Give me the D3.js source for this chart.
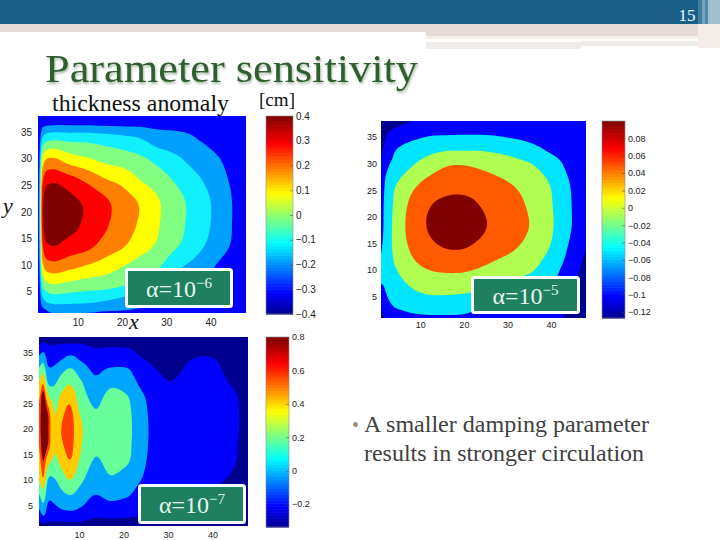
<!DOCTYPE html>
<html><head><meta charset="utf-8">
<script src="https://cdn.jsdelivr.net/npm/d3@7"></script>
<style>html,body{margin:0;padding:0;background:#fff}svg{display:block}</style>
</head><body><svg id="c" width="720" height="540"></svg>
<script>
// ---------- data ----------
const titleText = "Parameter sensitivity";
const subtitleText = "thickness anomaly";
const unitText = "[cm]";
const pageNumber = "15";
const bulletLines = ["A smaller damping parameter", "results in stronger circulation"];
const bulletWidths = [285, 280];
const xTicks = [10, 20, 30, 40];
const yTicks = [5, 10, 15, 20, 25, 30, 35];
const plotXDomain = [1, 48];
const plotYDomain = [1, 38];

// field grids for the panels with alpha 1e-6 and 1e-5
const gridXs = [1, 2, 4, 8, 12, 16, 20, 24, 28, 32, 36, 40, 44, 48];
const gridYs = [1, 3, 6, 10, 14, 18, 22, 26, 30, 33, 35.5, 38];
// alpha = 1e-6: one array per x column
const fieldA = [
 [-.45,-.42,-.42,-.42,-.42,-.42,-.42,-.42,-.42,-.42,-.42,-.45],
 [-.35,-.24,-.10,.08,.20,.27,.27,.18,.03,-.14,-.28,-.42],
 [-.30,-.18,-.02,.17,.31,.39,.38,.28,.11,-.07,-.24,-.42],
 [-.30,-.18,-.04,.14,.27,.34,.33,.24,.05,-.09,-.24,-.42],
 [-.30,-.19,-.06,.10,.24,.28,.28,.18,.01,-.10,-.24,-.43],
 [-.31,-.21,-.07,.06,.17,.22,.22,.11,-.03,-.12,-.25,-.44],
 [-.31,-.24,-.10,.01,.12,.15,.15,.07,-.05,-.14,-.26,-.44],
 [-.32,-.26,-.14,-.04,.05,.09,.09,.00,-.08,-.17,-.27,-.44],
 [-.35,-.30,-.21,-.08,-.01,.01,.01,-.05,-.13,-.23,-.30,-.45],
 [-.38,-.33,-.25,-.17,-.08,-.06,-.06,-.11,-.18,-.25,-.31,-.46],
 [-.42,-.36,-.29,-.22,-.15,-.13,-.13,-.17,-.23,-.28,-.33,-.47],
 [-.46,-.41,-.34,-.28,-.22,-.20,-.20,-.23,-.27,-.32,-.37,-.48],
 [-.50,-.47,-.42,-.35,-.29,-.28,-.28,-.30,-.33,-.38,-.42,-.50],
 [-.55,-.52,-.48,-.43,-.38,-.37,-.37,-.38,-.41,-.45,-.48,-.55]
];
const thresholdsA = [-.3, -.2, -.1, 0, .1, .2, .3];
const bandsA = ["#0000ff", "#00a0ff", "#10f0ff", "#80ff80", "#ffff00", "#ff8000", "#ff0000", "#800000"];

// alpha = 1e-5: one array per y row
const fieldB = [
 [-.100,-.080,-.055,-.046,-.044,-.044,-.044,-.052,-.058,-.064,-.070,-.075,-.085,-.120],
 [-.065,-.050,-.040,-.030,-.024,-.024,-.028,-.035,-.044,-.052,-.060,-.068,-.080,-.115],
 [-.045,-.040,-.025,-.005,.007,.008,.005,-.002,-.010,-.020,-.030,-.042,-.065,-.100],
 [-.035,-.030,-.005,.025,.040,.045,.044,.035,.022,.012,.001,-.026,-.055,-.090],
 [-.042,-.025,.008,.045,.068,.080,.080,.068,.054,.040,.022,-.004,-.043,-.080],
 [-.050,-.028,.010,.055,.083,.097,.098,.085,.068,.053,.034,.005,-.033,-.070],
 [-.050,-.030,.006,.050,.078,.090,.090,.079,.063,.050,.030,.003,-.033,-.070],
 [-.055,-.036,-.004,.030,.054,.066,.068,.062,.050,.037,.020,-.002,-.037,-.070],
 [-.068,-.050,-.030,-.005,.018,.035,.037,.030,.020,.010,-.002,-.022,-.050,-.075],
 [-.090,-.072,-.045,-.028,-.016,-.009,-.008,-.008,-.012,-.019,-.033,-.050,-.063,-.078],
 [-.100,-.085,-.065,-.053,-.044,-.042,-.041,-.041,-.044,-.050,-.056,-.062,-.068,-.076],
 [-.120,-.110,-.095,-.080,-.072,-.070,-.068,-.066,-.066,-.066,-.066,-.068,-.072,-.079]
];
const thresholdsB = [-.08, -.04, 0, .04, .08];
const bandsB = ["#00008f", "#0000ff", "#00e5ff", "#b0ff50", "#ff5a00", "#800000"];

// alpha = 1e-7: finer grid, one array per x column
const gridXsC = [1, 2, 3, 4.5, 6, 8, 10, 13.5, 17, 21, 23.5, 26, 30, 35, 40, 45, 48];
const gridYsC = [1, 3, 5, 8, 10.5, 14, 17, 20, 23, 26, 29, 31.5, 33.5, 35.5, 38];
const fieldC = [
 [-.30,-.10,.05,.25,.42,.55,.60,.62,.61,.58,.42,.25,.08,-.10,-.32],
 [-.25,.00,.17,.37,.60,.71,.80,.85,.83,.78,.58,.32,.15,-.05,-.30],
 [-.26,-.10,-.02,.10,.22,.50,.70,.72,.70,.48,.19,.05,-.05,-.13,-.30],
 [-.27,-.10,-.01,.10,.21,.37,.42,.43,.40,.32,.18,.05,-.05,-.14,-.30],
 [-.27,-.08,.04,.19,.32,.47,.57,.60,.55,.45,.30,.15,.00,-.11,-.30],
 [-.27,-.07,.07,.26,.43,.60,.66,.68,.65,.55,.38,.23,.07,-.09,-.30],
 [-.27,-.09,.03,.17,.28,.40,.44,.45,.41,.33,.25,.13,.00,-.10,-.30],
 [-.27,-.18,-.08,.03,.10,.19,.24,.27,.22,.15,.05,-.03,-.10,-.18,-.32],
 [-.27,-.17,-.04,.09,.19,.26,.29,.30,.29,.26,.16,.03,-.08,-.17,-.32],
 [-.28,-.18,-.07,.05,.13,.22,.235,.24,.235,.21,.12,.02,-.08,-.18,-.33],
 [-.29,-.20,-.12,-.04,.03,.09,.11,.12,.105,.07,-.02,-.10,-.17,-.24,-.36],
 [-.30,-.22,-.16,-.10,-.07,-.04,-.025,-.02,-.03,-.05,-.11,-.17,-.22,-.28,-.38],
 [-.32,-.26,-.22,-.19,-.17,-.16,-.15,-.15,-.16,-.17,-.195,-.23,-.27,-.32,-.40],
 [-.33,-.27,-.23,-.19,-.17,-.15,-.14,-.14,-.145,-.15,-.16,-.18,-.20,-.26,-.40],
 [-.33,-.28,-.24,-.20,-.17,-.15,-.145,-.14,-.14,-.14,-.15,-.17,-.19,-.25,-.40],
 [-.36,-.32,-.29,-.26,-.22,-.19,-.18,-.17,-.17,-.18,-.22,-.25,-.28,-.32,-.42],
 [-.40,-.37,-.35,-.32,-.30,-.28,-.275,-.27,-.27,-.27,-.29,-.31,-.33,-.36,-.44]
];
const thresholdsC = [-.2, 0, .2, .4, .6, .7];
const bandsC = ["#00008f", "#0000ff", "#00a6ff", "#66ff99", "#ffcc00", "#ff4000", "#800000"];

// colour bars
const jetStops = [0, .11, .36, .61, .86, 1];
const jetColors = ["#00008f", "#0000ff", "#00ffff", "#ffff00", "#ff0000", "#800000"];
const barTicksA = [-.4, -.3, -.2, -.1, 0, .1, .2, .3, .4];
const barTicksB = [-.12, -.1, -.08, -.06, -.04, -.02, 0, .02, .04, .06, .08];
const barTicksC = [-.2, 0, .2, .4, .6, .8];

const panels = [
 {xs: gridXs, ys: gridYs, field: fieldA, th: thresholdsA, bands: bandsA,
  box: [38, 116, 246, 313], bar: [266, 116, 293, 314], barDom: [-.4, .4], barTicks: barTicksA,
  label: [125, 268, 108, 40], exp: "\u22126", fs: 10, padX: 6, padY: 6},
 {xs: gridXs, ys: gridYs, field: d3.transpose(fieldB), th: thresholdsB, bands: bandsB,
  box: [381, 121, 586, 318], bar: [602, 121, 625, 318], barDom: [-.127, .1], barTicks: barTicksB,
  label: [471, 276, 109, 38], exp: "\u22125", fs: 9, padX: 4, padY: 4},
 {xs: gridXsC, ys: gridYsC, field: fieldC, th: thresholdsC, bands: bandsC,
  box: [39, 337, 248, 526], bar: [266, 337, 289, 527], barDom: [-.337, .8], barTicks: barTicksC,
  label: [138, 484, 108, 40], exp: "\u22127", fs: 9, padX: 6, padY: 6}
];

// ---------- helpers ----------
const svg = d3.select("#c");
const SERIF = "'Liberation Serif','Times New Roman',serif";
const SANS = "'Liberation Sans',Arial,sans-serif";

function catmull(arr, k) {
  const n = arr.length, out = [];
  for (let i = 0; i < n - 1; i++) {
    const p0 = arr[Math.max(i - 1, 0)], p1 = arr[i], p2 = arr[i + 1], p3 = arr[Math.min(i + 2, n - 1)];
    for (let s = 0; s < k; s++) {
      const t = s / k;
      out.push(.5 * (2 * p1 + (p2 - p0) * t + (2 * p0 - 5 * p1 + 4 * p2 - p3) * t * t + (3 * p1 - p0 - 3 * p2 + p3) * t * t * t));
    }
  }
  out.push(arr[n - 1]);
  return out;
}

// ---------- slide furniture ----------
const deco = [
 [0, 24, 720, 8, "#e6dad6"], [426, 32, 294, 4, "#e6dad6"], [426, 36, 294, 3, "#f6eeeb"],
 [426, 42, 155, 7, "#f0ecea"], [581, 41, 139, 5, "#f0ecea"], [698, 24, 22, 24, "#f3ece9"],
 [0, 0, 720, 24, "#1a5f87"], [698, 0, 4, 24, "#3f7ea0"], [702, 0, 3, 24, "#7aa5be"],
 [705, 0, 3, 24, "#4f88a8"], [708, 0, 12, 24, "#a0c0d0"]
];
svg.selectAll("rect.deco").data(deco).join("rect").attr("class", "deco")
  .attr("x", d => d[0]).attr("y", d => d[1]).attr("width", d => d[2]).attr("height", d => d[3]).attr("fill", d => d[4]);

svg.append("text").text(pageNumber).attr("x", 687).attr("y", 21).attr("text-anchor", "middle")
  .attr("font-family", SERIF).attr("font-size", 17).attr("fill", "#f2fbff");
svg.append("text").text(titleText).attr("x", 45).attr("y", 82)
  .attr("textLength", 373).attr("lengthAdjust", "spacingAndGlyphs")
  .attr("font-family", SERIF).attr("font-size", 39).attr("fill", "#2f5f2e")
  .style("filter", "drop-shadow(1.5px 2px 1px #a9b9a9)");
svg.append("text").text(subtitleText).attr("x", 52).attr("y", 111)
  .attr("textLength", 177).attr("lengthAdjust", "spacingAndGlyphs")
  .attr("font-family", SERIF).attr("font-size", 22.5).attr("fill", "#111");
svg.append("text").text(unitText).attr("x", 259).attr("y", 106)
  .attr("textLength", 36).attr("lengthAdjust", "spacingAndGlyphs")
  .attr("font-family", SERIF).attr("font-size", 18).attr("fill", "#111");
svg.append("text").text("y").attr("x", 3).attr("y", 213).attr("font-style", "italic")
  .attr("font-family", SERIF).attr("font-size", 22).attr("fill", "#111");
svg.append("text").text("x").attr("x", 129).attr("y", 329).attr("font-style", "italic")
  .attr("font-family", SERIF).attr("font-size", 22).attr("fill", "#111");

// ---------- panels ----------
panels.forEach((p, idx) => {
  const [x0, y0, x1, y1] = p.box;
  const x = d3.scaleLinear().domain(plotXDomain).range([x0, x1]);
  const y = d3.scaleLinear().domain(plotYDomain).range([y1, y0]);
  const g = svg.append("g");
  g.append("clipPath").attr("id", "clip" + idx).append("rect")
    .attr("x", x0).attr("y", y0).attr("width", x1 - x0).attr("height", y1 - y0);

  const k = 6;
  const cols = p.field.map(c => catmull(c, k));
  const rowsUp = d3.transpose(cols).map(r => catmull(r, k));
  const nx = rowsUp[0].length, ny = rowsUp.length;
  const values = rowsUp.flat();
  const ixToX = d3.scaleLinear().domain(p.xs.map((_, i) => i * k)).range(p.xs);
  const iyToY = d3.scaleLinear().domain(p.ys.map((_, i) => i * k)).range(p.ys);
  const path = d3.geoPath(d3.geoTransform({
    point(a, b) { this.stream.point(x(ixToX(a - .5)), y(iyToY(b - .5))); }
  }));
  const contours = d3.contours().size([nx, ny]).smooth(true).thresholds(p.th)(values);

  const plot = g.append("g").attr("clip-path", `url(#clip${idx})`);
  plot.append("rect").attr("x", x0).attr("y", y0).attr("width", x1 - x0).attr("height", y1 - y0).attr("fill", p.bands[0]);
  plot.selectAll("path").data(contours).join("path")
    .attr("d", path).attr("fill", (d, i) => p.bands[i + 1]);

  const styleAxis = a => {
    a.select(".domain").remove();
    a.selectAll(".tick line").remove();
    a.selectAll("text").attr("font-family", SANS).attr("font-size", p.fs).attr("fill", "#222");
  };
  g.append("g").attr("transform", `translate(0,${y1})`)
    .call(d3.axisBottom(x).tickValues(xTicks).tickSize(0).tickPadding(p.padX)).call(styleAxis);
  g.append("g").attr("transform", `translate(${x0},0)`)
    .call(d3.axisLeft(y).tickValues(yTicks).tickSize(0).tickPadding(p.padY)).call(styleAxis);

  // colour bar
  const [bx0, by0, bx1, by1] = p.bar;
  const by = d3.scaleLinear().domain(p.barDom).range([by1, by0]);
  const jet = d3.scaleLinear().domain(jetStops).range(jetColors);
  const levels = d3.range(64);
  const bh = (by1 - by0) / 64;
  g.selectAll("rect.cb").data(levels).join("rect").attr("class", "cb")
    .attr("x", bx0).attr("width", bx1 - bx0)
    .attr("y", d => by1 - (d + 1) * bh).attr("height", bh + .6)
    .attr("fill", d => jet((d + .5) / 64));
  g.append("rect").attr("x", bx0).attr("y", by0).attr("width", bx1 - bx0).attr("height", by1 - by0)
    .attr("fill", "none").attr("stroke", "#8a8a8a").attr("stroke-width", .6);
  const bAxis = g.append("g").attr("transform", `translate(${bx1},0)`)
    .call(d3.axisRight(by).tickValues(p.barTicks).tickFormat(d3.format("~g")).tickSize(-3).tickPadding(3));
  bAxis.select(".domain").remove();
  bAxis.selectAll(".tick line").attr("stroke", "#444").attr("stroke-width", .5);
  bAxis.selectAll("text").attr("font-family", SANS).attr("font-size", p.fs).attr("fill", "#222");

  // alpha label
  const [lx, ly, lw, lh] = p.label;
  g.append("rect").attr("x", lx + 1.5).attr("y", ly + 1.5).attr("width", lw - 3).attr("height", lh - 3)
    .attr("rx", 2).attr("fill", "#1f8060").attr("stroke", "#fff").attr("stroke-width", 3);
  const t = g.append("text").attr("x", lx + lw / 2).attr("y", ly + lh / 2 + 9).attr("text-anchor", "middle")
    .attr("font-family", SERIF).attr("font-size", 24).attr("fill", "#e6f5ee");
  t.append("tspan").text("\u03b1=10");
  t.append("tspan").text(p.exp).attr("font-size", 15).attr("dy", -9);
});

// ---------- bullet ----------
svg.append("text").text("\u2022").attr("x", 352).attr("y", 432)
  .attr("font-family", SERIF).attr("font-size", 20).attr("fill", "#a08a80");
svg.selectAll("text.b").data(bulletLines).join("text").attr("class", "b")
  .text(d => d).attr("x", 364).attr("y", (d, i) => 432 + i * 29)
  .attr("textLength", (d, i) => bulletWidths[i]).attr("lengthAdjust", "spacingAndGlyphs")
  .attr("font-family", SERIF).attr("font-size", 23.5).attr("fill", "#404040");
</script></body></html>
